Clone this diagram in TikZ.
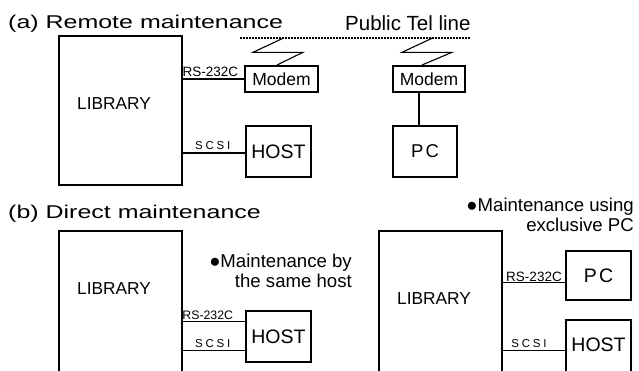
\documentclass[tikz,border=0pt]{standalone}
\usepackage{fontspec}
\setmainfont{Liberation Sans}
\newfontfamily\titlefont[FakeStretch=1.35]{Liberation Sans}
\newfontfamily\spacedfont[LetterSpace=24]{Liberation Sans}
\newfontfamily\pcfont[LetterSpace=12]{Liberation Sans}
\usetikzlibrary{positioning}
\tikzset{
  unitbox/.style={draw, line width=1.4pt, inner sep=0pt},
  modembox/.style={draw, line width=2pt, inner sep=0pt, minimum height=26,
    font=\fontsize{17.5}{19}\selectfont},
  libtext/.style={font=\fontsize{17.3}{19}\selectfont},
  heading/.style={anchor=base west, inner sep=0pt, font=\titlefont\fontsize{18.5}{20}\selectfont},
  note/.style={align=right, inner sep=0pt, font=\fontsize{18.6}{19.5}\selectfont},
  wire/.style={line width=1.1pt},
  rslabel/.style={above, inner sep=1.5pt, font=\fontsize{13.5}{14}\selectfont},
  scsilabel/.style={above, inner sep=2.5pt, font=\spacedfont\fontsize{11.5}{12}\selectfont}
}
\begin{document}
\begin{tikzpicture}[x=1pt, y=-1pt]
\useasboundingbox (0,0) rectangle (639,370);
\clip (0,0) rectangle (639,370);
% (a) remote maintenance
\node[heading] at (8,28.3) (titlea) {(a) Remote maintenance};
\node[anchor=base west, inner sep=0pt, font=\fontsize{20.5}{22}\selectfont] at (345,30) (telline) {Public Tel line};
\coordinate (dotl) at (240,38.3);
\coordinate (dotr) at (470,38.3);
\draw[line width=2pt, dash pattern=on 1.6pt off 1.4pt] (dotl) -- (dotr);
\node[unitbox, minimum width=123, minimum height=149] at (120.5,110.5) (liba) {};
\node[libtext] at (114,104) (libatext) {LIBRARY};
\node[modembox, minimum width=72.5] at (281.5,79) (modema) {Modem};
\node[modembox, minimum width=72] at (429,79) (modemb) {Modem};
\node[unitbox, minimum width=65, minimum height=51, font=\fontsize{19.5}{21}\selectfont] at (278.5,151.5) (hosta) {HOST};
\node[unitbox, minimum width=64, minimum height=51, font=\pcfont\fontsize{18.5}{20}\selectfont] at (425,151.5) (pca) {PC};
\coordinate (zigl) at (283,38.3);
\coordinate (zigr) at (432,38.3);
\draw[wire] (zigl) -- ++(-30,14) -- ++(50,0) -- ([xshift=-4.5pt]modema.north);
\draw[wire] (zigr) -- ++(-30,14) -- ++(50,0) -- ([xshift=-7pt]modemb.north);
\draw[wire] (modema.west -| liba.east) -- node[rslabel, pos=0.45] {RS-232C} (modema.west);
\draw[wire] ([yshift=-1.5pt]hosta.west -| liba.east) -- node[scsilabel, pos=0.48] {SCSI} ([yshift=-1.5pt]hosta.west);
\draw[wire] ([xshift=-10pt]modemb.south) -- ([xshift=-10pt]modemb.south |- pca.north);
% (b) direct maintenance
\node[heading] at (8,218.3) (titleb) {(b) Direct maintenance};
\node[unitbox, minimum width=123, minimum height=200] at (120.5,331) (libb) {};
\node[libtext] at (114,289) (libbtext) {LIBRARY};
\node[unitbox, minimum width=65, minimum height=51, font=\fontsize{19.5}{21}\selectfont] at (278.5,336.5) (hostb) {HOST};
\node[note, anchor=north east] at (352,254) (noteb) {●Maintenance by\\the same host};
\draw[wire] ([yshift=-11pt]hostb.north west -| libb.east) -- node[rslabel, pos=0.4, inner sep=1pt, font=\fontsize{12.3}{13}\selectfont] {RS-232C} ([yshift=-11pt]hostb.north west);
\draw[wire] ([yshift=12pt]hostb.south west -| libb.east) -- node[scsilabel, pos=0.48] {SCSI} ([yshift=12pt]hostb.south west);
\node[unitbox, minimum width=123, minimum height=200] at (440.5,331) (libc) {};
\node[libtext] at (434,299) (libctext) {LIBRARY};
\node[unitbox, minimum width=65, minimum height=49, font=\pcfont\fontsize{19.5}{21}\selectfont] at (598.5,275.5) (pcc) {PC};
\node[unitbox, minimum width=65, minimum height=100] at (598.5,370) (hostc) {};
\node[font=\fontsize{19.5}{21}\selectfont] at (598.5,344.5) (hostctext) {HOST};
\node[note, anchor=north east] at (634,198) (notec) {●Maintenance using\\exclusive PC};
\draw[wire] ([yshift=18pt]pcc.south west -| libc.east) -- node[rslabel, pos=0.5, inner sep=1pt] {RS-232C} ([yshift=18pt]pcc.south west);
\draw[wire] ([yshift=-31pt]hostc.north west -| libc.east) -- node[scsilabel, pos=0.42] {SCSI} ([yshift=-31pt]hostc.north west);
\end{tikzpicture}
\end{document}
